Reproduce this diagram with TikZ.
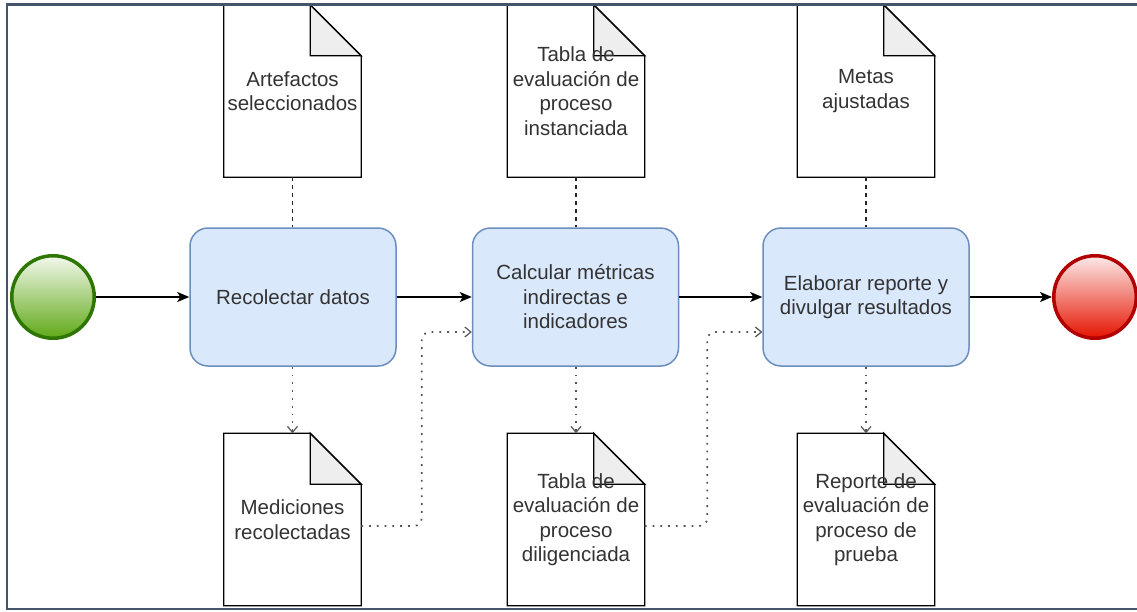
\documentclass[tikz,border=0pt]{standalone}
\usepackage{fontspec}
\setmainfont{Liberation Sans}
\usetikzlibrary{arrows.meta,calc,backgrounds}

\definecolor{boxfill}{HTML}{DAE8FC}
\definecolor{boxline}{HTML}{6C8EBF}
\definecolor{txt}{HTML}{333333}
\definecolor{foldfill}{HTML}{EEEEEE}
\definecolor{startline}{HTML}{2D7600}
\definecolor{starttop}{HTML}{F2F8EC}
\definecolor{startbot}{HTML}{60A917}
\definecolor{endline}{HTML}{B20000}
\definecolor{endtop}{HTML}{FCEAEA}
\definecolor{endbot}{HTML}{E51400}
\definecolor{framecol}{HTML}{44546A}
\definecolor{flowgray}{HTML}{555555}

\begin{document}
\begin{tikzpicture}[x=1pt,y=-1pt,
  every node/.style={font=\fontsize{20.5}{24.5}\selectfont, text=txt},
  task/.style={draw=boxline, fill=boxfill, line width=1.5pt, rounded corners=18pt,
    minimum width=206pt, minimum height=138pt, align=center, inner sep=0pt},
  docnode/.style={minimum width=137pt, minimum height=172pt, inner sep=0pt, align=center},
  docline/.style={draw=black, line width=1.3pt, line join=miter},
  startev/.style={circle, draw=startline, line width=3.5pt, top color=starttop,
    bottom color=startbot, minimum size=82.5pt, inner sep=0pt},
  endev/.style={circle, draw=endline, line width=3.5pt, top color=endtop,
    bottom color=endbot, minimum size=82.5pt, inner sep=0pt},
  flow/.style={draw=black, line width=1.5pt, -{Stealth[length=12pt,width=10pt,inset=3pt]}},
  assoc/.style={draw=black!85, line width=1.3pt, dash pattern=on 4pt off 4pt},
  dataflow/.style={draw=flowgray, line width=1.8pt, dash pattern=on 1.8pt off 6pt,
    -{Straight Barb[length=6pt,width=10pt,line width=1.2pt]}},
]
\useasboundingbox (0,0) rectangle (1137,611);

% events and tasks
\node[startev] (start) at (53,297) {};
\node[task] (b1) at (293,297) {Recolectar datos};
\node[task] (b2) at (575.5,297) {Calcular métricas\\indirectas e\\indicadores};
\node[task] (b3) at (866,297) {Elaborar reporte y\\divulgar resultados};
\node[endev] (end) at (1095,297) {};

% data objects
\node[docnode] (d1) at (292.5,91) {Artefactos\\seleccionados};
\node[docnode] (d2) at (576,91) {Tabla de\\evaluación de\\proceso\\instanciada};
\node[docnode] (d3) at (866,91) {Metas\\ajustadas};
\node[docnode] (d4) at (292.5,519.5) {Mediciones\\recolectadas};
\node[docnode] (d5) at (576,519.5) {Tabla de\\evaluación de\\proceso\\diligenciada};
\node[docnode] (d6) at (866,519.5) {Reporte de\\evaluación de\\proceso de\\prueba};

% folded-corner outlines behind the document labels
\begin{scope}[on background layer]
\foreach \n in {d1,d2,d3,d4,d5,d6} {
  \draw[docline, fill=white] (\n.north west) -- ([xshift=-51pt]\n.north east)
    -- ([yshift=-51pt]\n.north east) -- (\n.south east) -- (\n.south west) -- cycle;
  \draw[docline, fill=foldfill] ([xshift=-51pt]\n.north east)
    -- ([xshift=-51pt,yshift=-51pt]\n.north east) -- ([yshift=-51pt]\n.north east) -- cycle;
}
\end{scope}

% sequence flow
\draw[flow] (start) -- (b1);
\draw[flow] (b1) -- (b2);
\draw[flow] (b2) -- (b3);
\draw[flow] (b3) -- (end);

% input associations
\draw[assoc] (d1.south) -- (b1.north -| d1.south);
\draw[assoc] (d2.south) -- (b2.north -| d2.south);
\draw[assoc] (d3.south) -- (b3.north -| d3.south);

% outputs
\draw[dataflow] (b1.south -| d4.north) -- (d4.north);
\draw[dataflow] (b2.south -| d5.north) -- (d5.north);
\draw[dataflow] (b3.south -| d6.north) -- (d6.north);

% outputs feeding the next task
\draw[dataflow, rounded corners=8pt] ([yshift=-6.5pt]d4.east)
  -| ([xshift=-50pt,yshift=-35pt]b2.west) -- ([yshift=-35pt]b2.west);
\draw[dataflow, rounded corners=8pt] ([yshift=-6.5pt]d5.east)
  -| ([xshift=-55pt,yshift=-35pt]b3.west) -- ([yshift=-35pt]b3.west);

% frame
\draw[framecol, line width=2.5pt] (1137,4.5) -- (7,4.5) -- (7,609) -- (1137,609);
\end{tikzpicture}
\end{document}
